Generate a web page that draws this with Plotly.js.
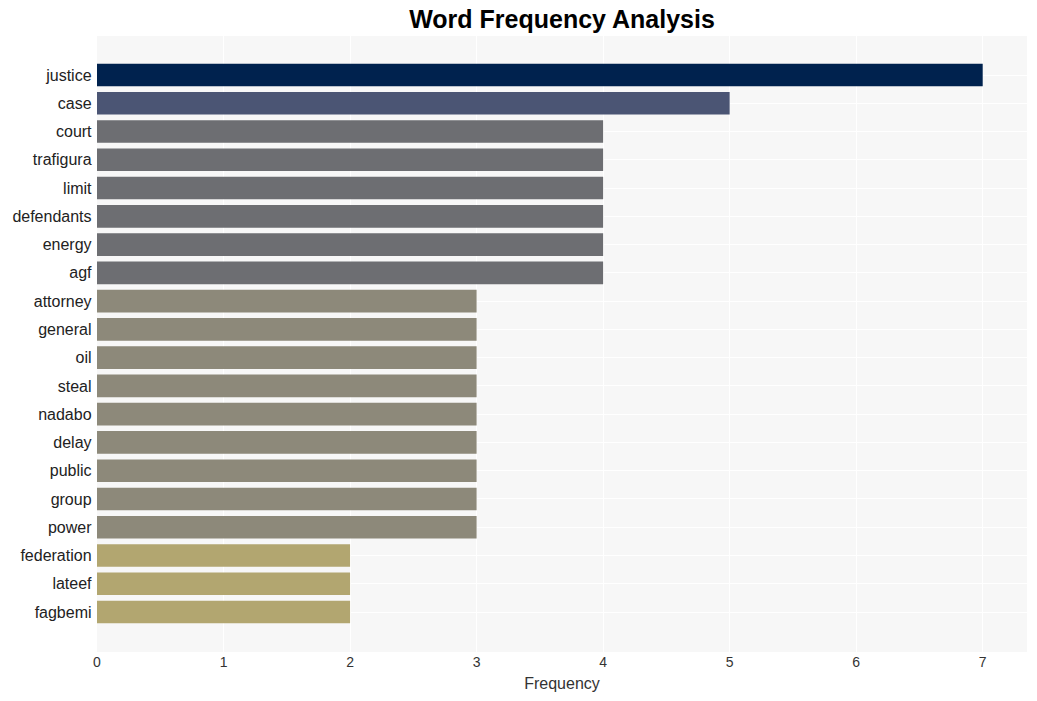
<!DOCTYPE html>
<html>
<head>
<meta charset="utf-8">
<script src="https://cdn.plot.ly/plotly-3.0.1.min.js"></script>
<style>html,body{margin:0;padding:0;background:#fff;}#chart{width:1037px;height:701px;}</style>
</head>
<body>
<div id="chart"></div>
<script>
const words = ["justice","case","court","trafigura","limit","defendants","energy","agf","attorney","general","oil","steal","nadabo","delay","public","group","power","federation","lateef","fagbemi"];
const counts = [7,5,4,4,4,4,4,4,3,3,3,3,3,3,3,3,3,2,2,2];
const colourByCount = {7:"#00224E",5:"#4B5574",4:"#6D6E72",3:"#8D897A",2:"#B2A670"};

const trace = {
  type: "bar",
  orientation: "h",
  x: counts,
  y: words,
  marker: {color: counts.map(c => colourByCount[c])},
  hoverinfo: "x+y"
};

const layout = {
  width: 1037, height: 701,
  margin: {l: 97, r: 10, t: 36, b: 49},
  paper_bgcolor: "#ffffff",
  plot_bgcolor: "#F7F7F7",
  bargap: 0.2,
  font: {family: "Liberation Sans, Arial, sans-serif", color: "#222"},
  title: {text: "<b>Word Frequency Analysis</b>", x: 0.5, xref: "paper", y: 0.972, yanchor: "middle", font: {size: 25, color: "#000", family: "Liberation Sans, Arial, sans-serif"}},
  xaxis: {
    range: [0, 7.35],
    tickvals: [0,1,2,3,4,5,6,7],
    gridcolor: "#ffffff",
    zeroline: false,
    showline: false,
    ticks: "",
    tickfont: {size: 14, color: "#333"},
    title: {text: "Frequency", font: {size: 16, color: "#333"}, standoff: 8}
  },
  yaxis: {
    type: "category",
    range: [20.415, -1.38],
    gridcolor: "#ffffff",
    zeroline: false,
    showline: false,
    ticks: "",
    ticksuffix: " ",
    tickfont: {size: 16, color: "#222"}
  },
  showlegend: false
};

Plotly.newPlot("chart", [trace], layout, {displayModeBar: false, staticPlot: true});
</script>
</body>
</html>
